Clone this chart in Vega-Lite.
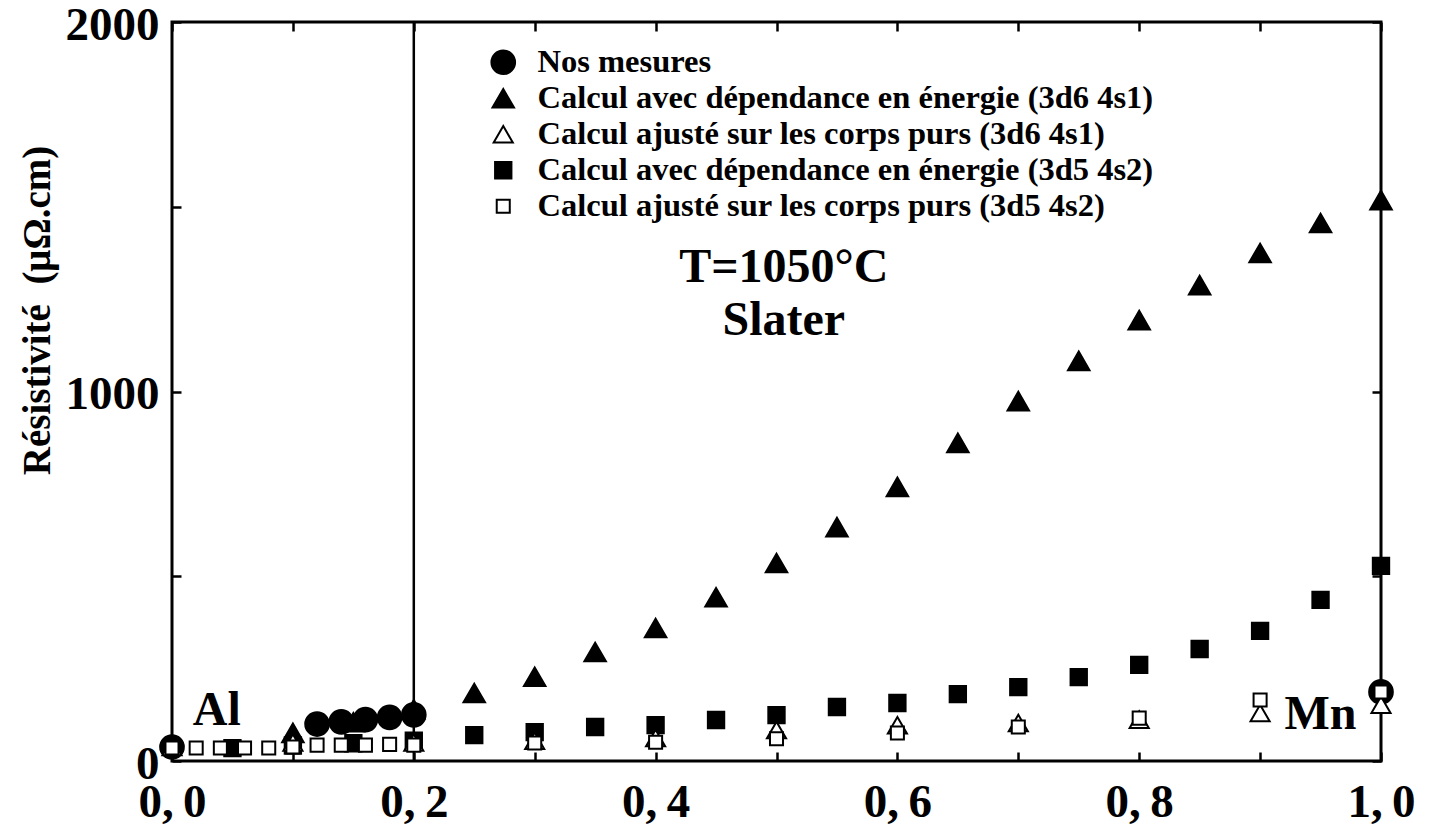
{
  "$schema": "https://vega.github.io/schema/vega-lite/v6.json",
  "width": 1209,
  "height": 739,
  "autosize": {"type": "none"},
  "padding": {"left": 172, "top": 22, "right": 48, "bottom": 75},
  "background": "white",
  "config": {
    "view": {"stroke": "black", "strokeWidth": 3},
    "font": "Liberation Serif",
    "axis": {
      "domain": false, "grid": false, "ticks": true, "tickColor": "black", "tickWidth": 2.5, "tickSize": -9,
      "labelFont": "Liberation Serif", "labelFontWeight": "bold", "labelFontSize": 47, "labelColor": "black",
      "labelFlush": false, "labelOverlap": false,
      "titleFont": "Liberation Serif", "titleFontWeight": "bold", "titleColor": "black"
    },
    "legend": {
      "labelFont": "Liberation Serif", "labelFontSize": 32.5, "labelFontWeight": "bold", "labelColor": "black", "labelLimit": 2000
    }
  },
  "datasets": {
    "pts": [
      {"serie": "Calcul avec dépendance en énergie (3d6 4s1)", "x": 0.1, "r": 76},
      {"serie": "Calcul avec dépendance en énergie (3d6 4s1)", "x": 0.15, "r": 105},
      {"serie": "Calcul avec dépendance en énergie (3d6 4s1)", "x": 0.2, "r": 140},
      {"serie": "Calcul avec dépendance en énergie (3d6 4s1)", "x": 0.25, "r": 184},
      {"serie": "Calcul avec dépendance en énergie (3d6 4s1)", "x": 0.3, "r": 228},
      {"serie": "Calcul avec dépendance en énergie (3d6 4s1)", "x": 0.35, "r": 295},
      {"serie": "Calcul avec dépendance en énergie (3d6 4s1)", "x": 0.4, "r": 360},
      {"serie": "Calcul avec dépendance en énergie (3d6 4s1)", "x": 0.45, "r": 443},
      {"serie": "Calcul avec dépendance en énergie (3d6 4s1)", "x": 0.5, "r": 536},
      {"serie": "Calcul avec dépendance en énergie (3d6 4s1)", "x": 0.55, "r": 633},
      {"serie": "Calcul avec dépendance en énergie (3d6 4s1)", "x": 0.6, "r": 742},
      {"serie": "Calcul avec dépendance en énergie (3d6 4s1)", "x": 0.65, "r": 861},
      {"serie": "Calcul avec dépendance en énergie (3d6 4s1)", "x": 0.7, "r": 974},
      {"serie": "Calcul avec dépendance en énergie (3d6 4s1)", "x": 0.75, "r": 1083},
      {"serie": "Calcul avec dépendance en énergie (3d6 4s1)", "x": 0.8, "r": 1193},
      {"serie": "Calcul avec dépendance en énergie (3d6 4s1)", "x": 0.85, "r": 1288},
      {"serie": "Calcul avec dépendance en énergie (3d6 4s1)", "x": 0.9, "r": 1375},
      {"serie": "Calcul avec dépendance en énergie (3d6 4s1)", "x": 0.95, "r": 1456},
      {"serie": "Calcul avec dépendance en énergie (3d6 4s1)", "x": 1.0, "r": 1518},
      {"serie": "Calcul avec dépendance en énergie (3d5 4s2)", "x": 0.05, "r": 35},
      {"serie": "Calcul avec dépendance en énergie (3d5 4s2)", "x": 0.1, "r": 42},
      {"serie": "Calcul avec dépendance en énergie (3d5 4s2)", "x": 0.15, "r": 48},
      {"serie": "Calcul avec dépendance en énergie (3d5 4s2)", "x": 0.2, "r": 55},
      {"serie": "Calcul avec dépendance en énergie (3d5 4s2)", "x": 0.25, "r": 70},
      {"serie": "Calcul avec dépendance en énergie (3d5 4s2)", "x": 0.3, "r": 78},
      {"serie": "Calcul avec dépendance en énergie (3d5 4s2)", "x": 0.35, "r": 92},
      {"serie": "Calcul avec dépendance en énergie (3d5 4s2)", "x": 0.4, "r": 97},
      {"serie": "Calcul avec dépendance en énergie (3d5 4s2)", "x": 0.45, "r": 111},
      {"serie": "Calcul avec dépendance en énergie (3d5 4s2)", "x": 0.5, "r": 124},
      {"serie": "Calcul avec dépendance en énergie (3d5 4s2)", "x": 0.55, "r": 146},
      {"serie": "Calcul avec dépendance en énergie (3d5 4s2)", "x": 0.6, "r": 157},
      {"serie": "Calcul avec dépendance en énergie (3d5 4s2)", "x": 0.65, "r": 181},
      {"serie": "Calcul avec dépendance en énergie (3d5 4s2)", "x": 0.7, "r": 200},
      {"serie": "Calcul avec dépendance en énergie (3d5 4s2)", "x": 0.75, "r": 227},
      {"serie": "Calcul avec dépendance en énergie (3d5 4s2)", "x": 0.8, "r": 260},
      {"serie": "Calcul avec dépendance en énergie (3d5 4s2)", "x": 0.85, "r": 303},
      {"serie": "Calcul avec dépendance en énergie (3d5 4s2)", "x": 0.9, "r": 352},
      {"serie": "Calcul avec dépendance en énergie (3d5 4s2)", "x": 0.95, "r": 436},
      {"serie": "Calcul avec dépendance en énergie (3d5 4s2)", "x": 1.0, "r": 528},
      {"serie": "Nos mesures", "x": 0.0, "r": 38},
      {"serie": "Nos mesures", "x": 0.12, "r": 100},
      {"serie": "Nos mesures", "x": 0.14, "r": 106},
      {"serie": "Nos mesures", "x": 0.16, "r": 112},
      {"serie": "Nos mesures", "x": 0.18, "r": 118},
      {"serie": "Nos mesures", "x": 0.2, "r": 125},
      {"serie": "Nos mesures", "x": 1.0, "r": 187},
      {"serie": "Calcul ajusté sur les corps purs (3d6 4s1)", "x": 0.0, "r": 38},
      {"serie": "Calcul ajusté sur les corps purs (3d6 4s1)", "x": 0.1, "r": 50},
      {"serie": "Calcul ajusté sur les corps purs (3d6 4s1)", "x": 0.2, "r": 50},
      {"serie": "Calcul ajusté sur les corps purs (3d6 4s1)", "x": 0.3, "r": 55},
      {"serie": "Calcul ajusté sur les corps purs (3d6 4s1)", "x": 0.4, "r": 62},
      {"serie": "Calcul ajusté sur les corps purs (3d6 4s1)", "x": 0.5, "r": 84},
      {"serie": "Calcul ajusté sur les corps purs (3d6 4s1)", "x": 0.6, "r": 97},
      {"serie": "Calcul ajusté sur les corps purs (3d6 4s1)", "x": 0.7, "r": 103},
      {"serie": "Calcul ajusté sur les corps purs (3d6 4s1)", "x": 0.8, "r": 112},
      {"serie": "Calcul ajusté sur les corps purs (3d6 4s1)", "x": 0.9, "r": 130},
      {"serie": "Calcul ajusté sur les corps purs (3d6 4s1)", "x": 1.0, "r": 152},
      {"serie": "Calcul ajusté sur les corps purs (3d5 4s2)", "x": 0.0, "r": 35},
      {"serie": "Calcul ajusté sur les corps purs (3d5 4s2)", "x": 0.02, "r": 35},
      {"serie": "Calcul ajusté sur les corps purs (3d5 4s2)", "x": 0.04, "r": 35},
      {"serie": "Calcul ajusté sur les corps purs (3d5 4s2)", "x": 0.06, "r": 35},
      {"serie": "Calcul ajusté sur les corps purs (3d5 4s2)", "x": 0.08, "r": 35},
      {"serie": "Calcul ajusté sur les corps purs (3d5 4s2)", "x": 0.1, "r": 38},
      {"serie": "Calcul ajusté sur les corps purs (3d5 4s2)", "x": 0.12, "r": 43},
      {"serie": "Calcul ajusté sur les corps purs (3d5 4s2)", "x": 0.14, "r": 43},
      {"serie": "Calcul ajusté sur les corps purs (3d5 4s2)", "x": 0.16, "r": 43},
      {"serie": "Calcul ajusté sur les corps purs (3d5 4s2)", "x": 0.18, "r": 45},
      {"serie": "Calcul ajusté sur les corps purs (3d5 4s2)", "x": 0.2, "r": 43},
      {"serie": "Calcul ajusté sur les corps purs (3d5 4s2)", "x": 0.3, "r": 49},
      {"serie": "Calcul ajusté sur les corps purs (3d5 4s2)", "x": 0.4, "r": 51},
      {"serie": "Calcul ajusté sur les corps purs (3d5 4s2)", "x": 0.5, "r": 60},
      {"serie": "Calcul ajusté sur les corps purs (3d5 4s2)", "x": 0.6, "r": 76},
      {"serie": "Calcul ajusté sur les corps purs (3d5 4s2)", "x": 0.7, "r": 92},
      {"serie": "Calcul ajusté sur les corps purs (3d5 4s2)", "x": 0.8, "r": 116},
      {"serie": "Calcul ajusté sur les corps purs (3d5 4s2)", "x": 0.9, "r": 165},
      {"serie": "Calcul ajusté sur les corps purs (3d5 4s2)", "x": 1.0, "r": 187}
    ],
    "notes": [
      {"x": 0.506, "r": 1334, "t": "T=1050°C"},
      {"x": 0.506, "r": 1191, "t": "Slater"},
      {"x": 0.037, "r": 135, "t": "Al"},
      {"x": 0.950, "r": 124, "t": "Mn"}
    ]
  },
  "layer": [
    {
      "data": {"values": [{"x": 0.2}]},
      "mark": {"type": "rule", "color": "black", "strokeWidth": 2.5},
      "encoding": {
        "x": {"field": "x", "type": "quantitative", "scale": {"domain": [0, 1], "nice": false}, "axis": null}
      }
    },
    {
      "data": {"name": "pts"},
      "mark": {"type": "point", "stroke": "black", "strokeWidth": 2, "opacity": 1, "fillOpacity": 1, "strokeOpacity": 1},
      "encoding": {
        "x": {
          "field": "x", "type": "quantitative", "scale": {"domain": [0, 1], "nice": false},
          "axis": {"orient": "bottom", "title": null, "values": [0, 0.1, 0.2, 0.3, 0.4, 0.5, 0.6, 0.7, 0.8, 0.9, 1.0], "labelPadding": 27,
            "labelExpr": "round(datum.value*10) % 2 == 0 ? replace(format(datum.value, '.1f'), '.', ',\u2009') : ''"}
        },
        "y": {
          "field": "r", "type": "quantitative", "scale": {"domain": [0, 2000], "nice": false},
          "axis": {"orient": "left", "values": [0, 500, 1000, 1500, 2000], "labelPadding": 22, "labelOffset": 3,
            "labelExpr": "datum.value % 1000 == 0 ? datum.label : ''", "format": "d",
            "title": "Résistivité\u00a0\u00a0(μΩ.cm)", "titleFontSize": 39, "titleX": -135, "titleY": 288, "titleAngle": -90,
            "titleAlign": "center", "titleBaseline": "middle"}
        },
        "shape": {
          "field": "serie", "type": "nominal",
          "scale": {
            "domain": ["Nos mesures", "Calcul avec dépendance en énergie (3d6 4s1)", "Calcul ajusté sur les corps purs (3d6 4s1)", "Calcul avec dépendance en énergie (3d5 4s2)", "Calcul ajusté sur les corps purs (3d5 4s2)"],
            "range": ["circle", "triangle-up", "triangle-up", "square", "square"]
          },
          "legend": {
            "orient": "none", "legendX": 315, "legendY": 24, "title": null, "padding": 0,
            "labelOffset": 18, "rowPadding": 3, "symbolStrokeColor": "black", "symbolStrokeWidth": 2, "symbolOpacity": 1,
            "encode": {"symbols": {"update": {"size": {"signal": "datum.value === 'Nos mesures' ? 380 : (indexof(datum.value, 'ajusté') >= 0 ? 70 : 85)"}}}}
          }
        },
        "fill": {
          "field": "serie", "type": "nominal",
          "scale": {
            "domain": ["Nos mesures", "Calcul avec dépendance en énergie (3d6 4s1)", "Calcul ajusté sur les corps purs (3d6 4s1)", "Calcul avec dépendance en énergie (3d5 4s2)", "Calcul ajusté sur les corps purs (3d5 4s2)"],
            "range": ["black", "black", "white", "black", "white"]
          }
        },
        "size": {
          "field": "serie", "type": "nominal",
          "scale": {
            "domain": ["Nos mesures", "Calcul avec dépendance en énergie (3d6 4s1)", "Calcul ajusté sur les corps purs (3d6 4s1)", "Calcul avec dépendance en énergie (3d5 4s2)", "Calcul ajusté sur les corps purs (3d5 4s2)"],
            "range": [560, 170, 90, 140, 85]
          }
        }
      }
    },
    {
      "data": {"name": "notes"},
      "mark": {"type": "text", "font": "Liberation Serif", "fontWeight": "bold", "fontSize": 48, "color": "black", "align": "center", "baseline": "middle"},
      "encoding": {
        "x": {
          "field": "x", "type": "quantitative", "scale": {"domain": [0, 1], "nice": false},
          "axis": {"orient": "top", "title": null, "labels": false, "values": [0, 0.1, 0.2, 0.3, 0.4, 0.5, 0.6, 0.7, 0.8, 0.9, 1.0]}
        },
        "y": {
          "field": "r", "type": "quantitative", "scale": {"domain": [0, 2000], "nice": false},
          "axis": {"orient": "right", "title": null, "labels": false, "values": [0, 500, 1000, 1500, 2000]}
        },
        "text": {"field": "t", "type": "nominal"}
      }
    }
  ],
  "resolve": {"axis": {"x": "independent", "y": "independent"}}
}
